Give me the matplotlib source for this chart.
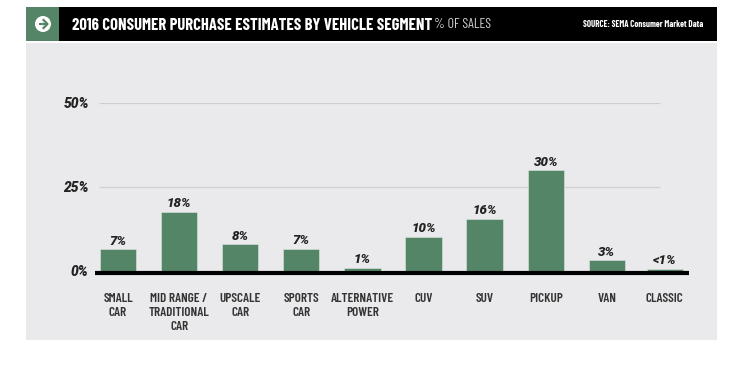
import numpy as np
import matplotlib
matplotlib.use("Agg")
import matplotlib.pyplot as plt
from matplotlib.patches import Rectangle, Circle

categories = ["SMALL\nCAR", "MID RANGE /\nTRADITIONAL\nCAR", "UPSCALE\nCAR", "SPORTS\nCAR",
              "ALTERNATIVE\nPOWER", "CUV", "SUV", "PICKUP", "VAN", "CLASSIC"]
values = [6.5, 17.7, 8, 6.6, 1, 10.2, 15.6, 30, 3.2, 0.7]
value_labels = ["7%", "18%", "8%", "7%", "1%", "10%", "16%", "30%", "3%", "<1%"]
y_ticks = [0, 25, 50]
y_tick_labels = ["0%", "25%", "50%"]

GREEN = "#548566"
PANEL = "#eaeaec"
NARROW = ["Barlow Condensed", "Liberation Sans", "DejaVu Sans"]
ITALIC = ["Roboto", "DejaVu Sans"]

plt.rcParams["font.family"] = NARROW
fig = plt.figure(figsize=(7.5, 3.65), dpi=100, facecolor="white")

# page furniture drawn in pixel coords
bg = fig.add_axes([0, 0, 1, 1], zorder=0)
bg.set_xlim(0, 750)
bg.set_ylim(365, 0)
bg.axis("off")
bg.add_patch(Rectangle((26, 42.5), 691, 297, color=PANEL, lw=0))
bg.add_patch(Rectangle((26, 7), 33, 34, color=GREEN, lw=0))
bg.add_patch(Rectangle((59, 7), 658, 34, color="black", lw=0))
bg.add_patch(Circle((43, 24), 8, color="white", lw=0))
bg.plot([38.5, 47.5], [24, 24], color=GREEN, lw=1.6, solid_capstyle="butt")
bg.plot([43.5, 47.5, 43.5], [20, 24, 28], color=GREEN, lw=1.6)
bg.text(72, 25, "2016 CONSUMER PURCHASE ESTIMATES BY VEHICLE SEGMENT", color="white",
        fontsize=12, fontweight="bold", va="center", ha="left")
bg.text(434, 25, "% OF SALES", color="#d0d0d0", fontsize=10, va="center", ha="left")
bg.text(703, 24.5, "SOURCE: SEMA Consumer Market Data", color="white", fontsize=6.4,
        fontweight="bold", va="center", ha="right")

ax = fig.add_axes([95 / 750, (365 - 271) / 365, 594 / 750, 168 / 365], zorder=1)
ax.patch.set_alpha(0)

# last slot sits a bit closer to its neighbour in the original
x = np.arange(len(categories), dtype=float)
x[-1] -= 0.05

ax.set_xlim(-0.376, 9.345)
ax.set_ylim(0, 50)
ax.hlines([25, 50], -0.31, 8.87, color="#cfcfd1", lw=0.9, zorder=1)
bars = ax.bar(x, values, width=0.595, color=GREEN, edgecolor="#dfe7e1", linewidth=0.4, zorder=2)
ax.bar_label(bars, labels=value_labels, padding=1, fontsize=9.5, fontweight=900, style="italic",
             family=ITALIC, color="#222222")

for side in ["top", "left", "right"]:
    ax.spines[side].set_visible(False)
ax.spines["bottom"].set_position(("outward", 1.5))
ax.spines["bottom"].set_linewidth(3)
ax.spines["bottom"].set_color("black")
ax.spines["bottom"].set_capstyle("butt")

ax.set_yticks(y_ticks)
ax.set_yticklabels(y_tick_labels, fontsize=10, fontweight=900, style="italic",
                   family=ITALIC, color="#222222")
ax.tick_params(axis="y", length=0, pad=4.5)
ax.set_xticks(x)
ax.set_xticklabels(categories, fontsize=9.5, color="#333333", linespacing=1.25, fontweight="semibold")
ax.tick_params(axis="x", length=0, pad=14)

fig.savefig("out.png", dpi=100)
